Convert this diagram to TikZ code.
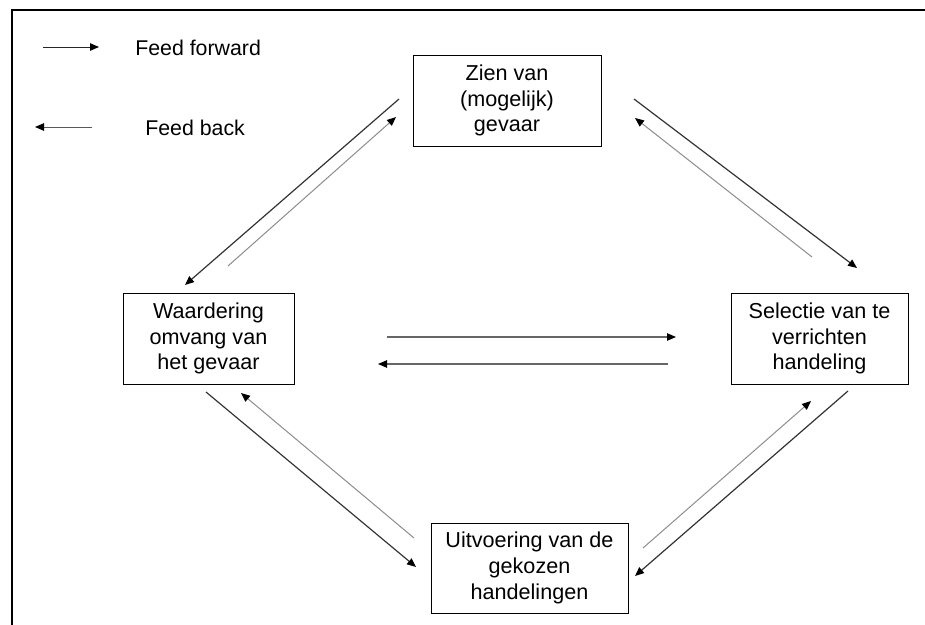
\documentclass[tikz,border=0pt]{standalone}
\usepackage{fontspec}
\setmainfont{Liberation Sans}
\usetikzlibrary{arrows.meta}
\tikzset{
  box/.style={draw=black, line width=0.75pt, inner sep=0pt, align=center,
    font=\fontsize{16.2}{19.2}\selectfont},
  lbl/.style={anchor=west, inner sep=0pt, font=\fontsize{16}{18.9}\selectfont},
  fwd/.style={draw=black!80, line width=0.9pt,
    -{Triangle[length=6.75pt,width=5.6pt,color=black]}},
  bck/.style={draw=black!45, line width=0.75pt,
    -{Triangle[length=6.75pt,width=5.6pt,color=black]}},
  hz/.style={draw=black!60, line width=0.8pt,
    -{Triangle[length=6.75pt,width=5.6pt,color=black]}},
  frame/.style={draw=black, line width=1.6pt}
}
\begin{document}
\begin{tikzpicture}[x=0.75pt,y=-0.75pt]
\useasboundingbox (0,0) rectangle (925,625);
% frame
\coordinate (fl) at (12,625);
\coordinate (fc) at (12,10);
\coordinate (fr) at (925,10);
\draw[frame] (fl) -- (fc) -- (fr);
% legend
\coordinate (la1) at (43,47);
\coordinate (la2) at (99,47);
\coordinate (lb1) at (92,127);
\coordinate (lb2) at (35,127);
\draw[fwd, draw=black!85, line width=0.75pt] (la1) -- (la2);
\draw[bck, draw=black!65] (lb1) -- (lb2);
\node[lbl] (tf) at (135,48) {Feed forward};
\node[lbl] (tb) at (145,128) {Feed back};
% boxes
\node[box, minimum width=141pt, minimum height=68.25pt] (zien) at (507,100.5)
  {Zien van\\(mogelijk)\\gevaar};
\node[box, minimum width=128.25pt, minimum height=68.25pt] (waar) at (208.5,338.5)
  {Waardering\\omvang van\\het gevaar};
\node[box, minimum width=132.75pt, minimum height=68.25pt] (sel) at (819.5,338.5)
  {Selectie van te\\verrichten\\handeling};
\node[box, minimum width=147.75pt, minimum height=67.5pt] (uit) at (529.5,568)
  {Uitvoering van de\\gekozen\\handelingen};
% arrow end points
\coordinate (a1s) at (399,99);  \coordinate (a1e) at (185,285);
\coordinate (b1s) at (228,266); \coordinate (b1e) at (396,117);
\coordinate (a2s) at (634,99);  \coordinate (a2e) at (857,268);
\coordinate (b2s) at (812,257); \coordinate (b2e) at (635,118);
\coordinate (h1s) at (387,337); \coordinate (h1e) at (676,337);
\coordinate (h2s) at (668,364); \coordinate (h2e) at (378,364);
\coordinate (a3s) at (206,392); \coordinate (a3e) at (416,567);
\coordinate (b3s) at (414,538); \coordinate (b3e) at (241,393);
\coordinate (a4s) at (848,391); \coordinate (a4e) at (635,576);
\coordinate (b4s) at (643,548); \coordinate (b4e) at (811,401);
\draw[fwd] (a1s) -- (a1e);
\draw[bck] (b1s) -- (b1e);
\draw[fwd] (a2s) -- (a2e);
\draw[bck] (b2s) -- (b2e);
\draw[hz] (h1s) -- (h1e);
\draw[hz] (h2s) -- (h2e);
\draw[fwd] (a3s) -- (a3e);
\draw[bck] (b3s) -- (b3e);
\draw[fwd] (a4s) -- (a4e);
\draw[bck] (b4s) -- (b4e);
\end{tikzpicture}
\end{document}
